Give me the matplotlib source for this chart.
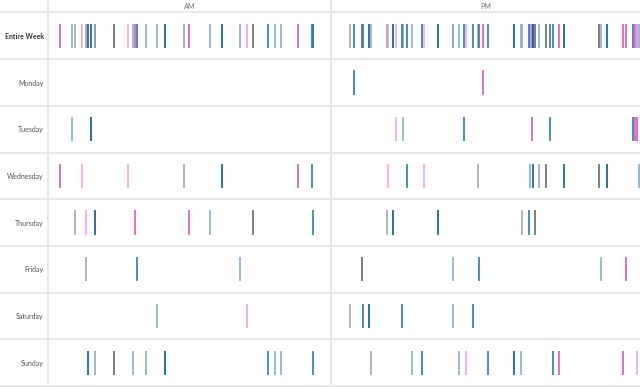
import matplotlib.pyplot as plt

# times in hours (0-24), with a colour key for each mark
monday = [(12.89, 'b'), (17.90, 'p')]
tuesday = [(1.02, 'lb'), (1.82, 'db'), (14.52, 'lp'), (14.80, 'lb'), (17.17, 'b'),
           (19.81, 'p'), (20.50, 'b'), (23.73, 'b'), (23.81, 'p'), (23.88, 'p')]
wednesday = [(0.51, 'p'), (1.44, 'lp'), (3.39, 'lp'), (5.77, 'lg'), (7.38, 'db'),
             (10.60, 'p'), (11.19, 'b'), (14.21, 'lp'), (14.95, 'b'), (15.61, 'lp'),
             (17.71, 'lg'), (19.73, 'lb'), (19.84, 'db'), (20.08, 'lb'), (20.35, 'dg'),
             (21.05, 'db'), (22.41, 'dg'), (22.72, 'db'), (23.96, 'lb')]
thursday = [(1.14, 'lg'), (1.61, 'lp'), (1.99, 'db'), (3.69, 'p'), (5.98, 'p'),
            (6.87, 'lb'), (8.69, 'dg'), (11.24, 'b'), (14.17, 'lg'), (14.41, 'db'),
            (16.16, 'db'), (19.42, 'lg'), (19.69, 'b'), (19.92, 'dg')]
friday = [(1.61, 'lg'), (3.77, 'b'), (8.14, 'lb'), (13.20, 'dg'), (16.74, 'lb'),
          (17.75, 'b'), (22.49, 'lb'), (23.46, 'p')]
saturday = [(4.62, 'lb'), (8.44, 'lp'), (12.74, 'lg'), (13.24, 'b'), (13.48, 'db'),
            (14.76, 'b'), (16.74, 'lb'), (17.51, 'b')]
sunday = [(1.70, 'db'), (1.99, 'lb'), (2.80, 'dg'), (3.60, 'lb'), (4.16, 'lb'),
          (4.96, 'db'), (9.33, 'b'), (9.63, 'lb'), (9.88, 'lb'), (11.24, 'b'),
          (13.55, 'lg'), (15.15, 'lb'), (15.53, 'b'), (16.97, 'lb'), (17.24, 'lp'),
          (18.10, 'b'), (19.11, 'db'), (19.38, 'lb'), (20.62, 'b'), (20.85, 'p'),
          (23.34, 'p'), (23.88, 'lp')]

days = [monday, tuesday, wednesday, thursday, friday, saturday, sunday]
row_labels = ['Entire Week', 'Monday', 'Tuesday', 'Wednesday', 'Thursday',
              'Friday', 'Saturday', 'Sunday']
panels = [('AM', 0, 12), ('PM', 12, 24)]

palette = {
    'lb': '#86acd4', 'b': '#2a78c0', 'db': '#0a56a0',
    'lp': '#efa8db', 'p': '#dc5ab4',
    'lg': '#a6a6a6', 'dg': '#6a6a6a',
}

plt.rcParams['font.family'] = ['Lato', 'DejaVu Sans']

W, H = 640, 387
row_px = 386 / (8 + 12.5 / 46.7)
header = 12.5 / row_px
grid_c = '#e8e8e8'

fig = plt.figure(figsize=(6.4, 3.87), dpi=100)
boxes = [(48, 283), (331, 309)]

for (name, lo, hi), (left, width) in zip(panels, boxes):
    ax = fig.add_axes([left / W, 1 / H, width / W, 386 / H])
    ax.set_xlim(lo, hi)
    ax.set_ylim(7.5, -0.5 - header)
    for s in ax.spines.values():
        s.set_visible(False)
    ax.set_xticks([])

    # horizontal row separators (left panel stretches into the label column)
    xmin = -left / width if lo == 0 else 0
    for k in range(9):
        ax.axhline(k - 0.5, xmin=xmin, xmax=1, color=grid_c, lw=1.4, clip_on=False, zorder=0)
    ax.axvline(lo, ymin=0, ymax=1 + 1 / 386, color=grid_c, lw=1.4, clip_on=False, zorder=0)

    ax.text((lo + hi) / 2, -0.5 - header / 2, name, ha='center', va='center',
            fontsize=5.2, color='#777777')

    for r, day in enumerate(days, start=1):
        pts = [(t, c) for t, c in day if lo <= t < hi]
        if not pts:
            continue
        xs = [t for t, _ in pts]
        cs = [palette[c] for _, c in pts]
        ax.vlines(xs, r - 0.26, r + 0.26, colors=cs, lw=1.2)
        # entire week row gathers every day
        ax.vlines(xs, -0.26, 0.26, colors=cs, lw=1.2)

    if lo == 0:
        ax.set_yticks(range(8))
        ax.set_yticklabels(row_labels, fontsize=5.0, color='#555555')
        ax.tick_params(axis='y', length=0, pad=3)
        ax.get_yticklabels()[0].set_fontweight('bold')
        ax.get_yticklabels()[0].set_color('#333333')
    else:
        ax.set_yticks([])

fig.savefig('out.png', dpi=100, facecolor='white')
